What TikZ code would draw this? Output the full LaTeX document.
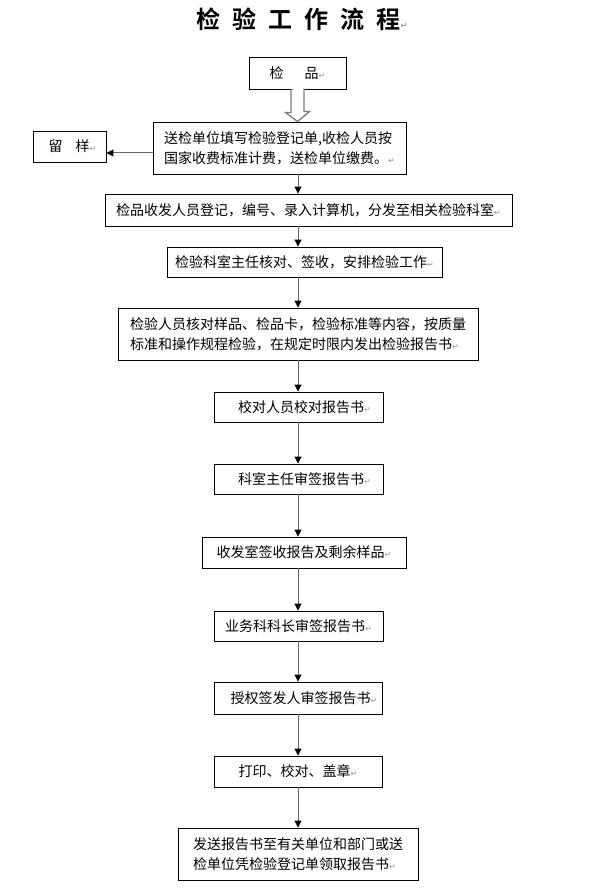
\documentclass[tikz,border=0pt]{standalone}
\usepackage{fontspec}
\setmainfont{Noto Sans CJK SC}[BoldFont={Noto Sans CJK SC Bold}]
\newfontfamily\markfont{DejaVu Sans}
\usetikzlibrary{arrows.meta, calc}
\definecolor{LineGray}{RGB}{105, 105, 105}
\definecolor{MarkGray}{RGB}{150, 150, 150}
\definecolor{HollowGray}{RGB}{125, 125, 125}
\newcommand{\retmark}{{\markfont\fontsize{8}{8}\selectfont\color{MarkGray}↵}}

\begin{document}
\begin{tikzpicture}[
    x=1pt, y=1pt,
    every node/.style={font=\fontsize{14}{20}\selectfont},
    box/.style={rectangle, draw=black, fill=white, line width=0.9pt, inner sep=0pt, align=center},
    multi/.style={box, align=left},
    arrow/.style={-{Triangle[length=7pt, width=7pt, color=black]}, draw=LineGray, line width=1pt},
    hollow/.style={draw=HollowGray, fill=white, line width=1.3pt, line join=miter}
  ]
    \useasboundingbox (0,0) rectangle (591,-893);

    % Title
    \node (title) at (302,-19) {\fontsize{24}{24}\selectfont\bfseries 检\enspace 验\enspace 工\enspace 作\enspace 流\enspace 程\retmark};

    % Intake
    \node[box, minimum width=97pt, minimum height=32pt] (item) at (297.5,-73) {检\hspace{21pt}品\retmark};
    \node[multi, minimum width=253pt, minimum height=52pt] (send) at (279.5,-148) {送检单位填写检验登记单,收检人员按\\国家收费标准计费，送检单位缴费。\retmark};
    \node[box, minimum width=73pt, minimum height=31pt] (keep) at (69.5,-146.5) {\hspace{6pt}留\hspace{13pt}样\retmark};

    % Testing
    \node[box, minimum width=407pt, minimum height=32pt] (reg) at (308.5,-210) {检品收发人员登记，编号、录入计算机，分发至相关检验科室\retmark};
    \node[box, minimum width=275pt, minimum height=30pt] (assign) at (304.5,-262) {检验科室主任核对、签收，安排检验工作\retmark};
    \node[multi, minimum width=360pt, minimum height=52pt] (test) at (298,-334) {检验人员核对样品、检品卡，检验标准等内容，按质量\\标准和操作规程检验，在规定时限内发出检验报告书\retmark};

    % Report approval
    \node[box, minimum width=169pt, minimum height=30pt] (check) at (298.5,-407) {\hspace{12pt}校对人员校对报告书\retmark};
    \node[box, minimum width=169pt, minimum height=30pt] (chief) at (298.5,-479) {\hspace{12pt}科室主任审签报告书\retmark};
    \node[box, minimum width=204pt, minimum height=31pt] (recv) at (304,-552.5) {收发室签收报告及剩余样品\retmark};
    \node[box, minimum width=169pt, minimum height=30pt] (head) at (298.5,-626) {业务科科长审签报告书\retmark};
    \node[box, minimum width=168pt, minimum height=32pt] (auth) at (298,-698) {\hspace{12pt}授权签发人审签报告书\retmark};
    \node[box, minimum width=168pt, minimum height=31pt] (print) at (298,-771.5) {打印、校对、盖章\retmark};
    \node[multi, minimum width=240pt, minimum height=52pt] (issue) at (298,-854) {发送报告书至有关单位和部门或送\\检单位凭检验登记单领取报告书\retmark};

    % Connections
    \coordinate (axis) at (298,0);
    \draw[hollow] ($(item.south)+(-6.5,0)$) -- ++(0,-23) -- ++(-5.5,0) -- (item.south |- send.north) -- ++(12,10) -- ++(-5.5,0) -- ++(0,23);
    \draw[arrow] ([yshift=-5pt]send.west) -- ([yshift=-5pt]send.west -| keep.east);
    \draw[arrow] (send.south -| axis) -- (reg.north -| axis);
    \draw[arrow] (reg.south -| axis) -- (assign.north -| axis);
    \draw[arrow] (assign.south -| axis) -- (test.north -| axis);
    \draw[arrow] (test.south -| axis) -- (check.north -| axis);
    \draw[arrow] (check.south -| axis) -- (chief.north -| axis);
    \draw[arrow] (chief.south -| axis) -- (recv.north -| axis);
    \draw[arrow] (recv.south -| axis) -- (head.north -| axis);
    \draw[arrow] (head.south -| axis) -- (auth.north -| axis);
    \draw[arrow] (auth.south -| axis) -- (print.north -| axis);
    \draw[arrow] (print.south -| axis) -- (issue.north -| axis);
  \end{tikzpicture}
\end{document}
